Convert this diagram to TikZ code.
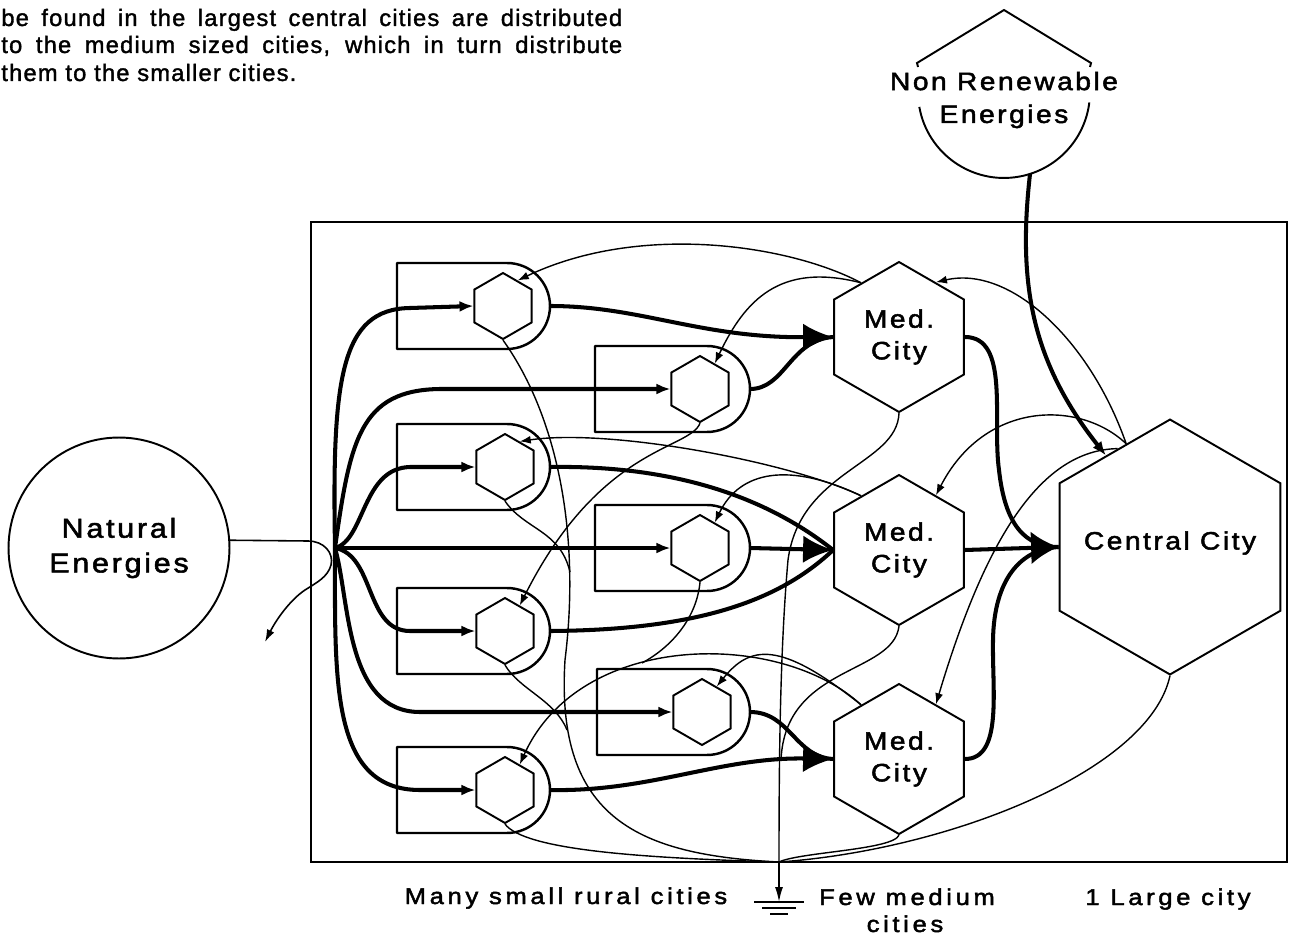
\documentclass[tikz,border=0pt]{standalone}
\usepackage{fontspec}
\setmainfont{Liberation Sans}
\newfontfamily\lblfont[FakeStretch=1.12,LetterSpace=10,FakeBold=2]{Liberation Sans}
\newfontfamily\botfont[FakeStretch=1.12,LetterSpace=16,FakeBold=2]{Liberation Sans}
\newfontfamily\hdrfont[LetterSpace=5,FakeBold=1.5]{Liberation Sans}
\usetikzlibrary{arrows.meta,shapes.geometric}

\begin{document}
\begin{tikzpicture}[x=0.02cm, y=-0.02cm,
  unit/.style={draw, line width=1.1pt, regular polygon, regular polygon sides=6, shape border rotate=30, minimum size=1.32cm, inner sep=0pt},
  city/.style={unit, minimum size=3cm, align=center, font=\lblfont\fontsize{14.3}{18}\selectfont},
  encl/.style={line width=1.4pt, line join=round},
  pipe/.style={line width=2.3pt},
  flow/.style={pipe, -{Latex[length=0.28cm,width=0.22cm]}},
  bigflow/.style={pipe, -{Latex[length=0.6cm,width=0.55cm]}},
  cflow/.style={pipe, -{Latex[length=0.55cm,width=0.66cm]}},
  fb/.style={line width=0.8pt, -{Latex[length=0.22cm,width=0.16cm]}},
  drain/.style={line width=0.8pt},
  hdr/.style={font=\hdrfont\fontsize{13.5}{16}\selectfont, inner sep=0pt},
  lbl/.style={font=\botfont\fontsize{13}{16}\selectfont, anchor=base, inner sep=0pt}
]
\useasboundingbox (0,0) rectangle (1291,936);

% caption text above
\node[hdr, anchor=base west] (hdra) at (1,26) {\hbox to 12.42cm{be found in the largest central cities are distributed}};
\node[hdr, anchor=base west] (hdrb) at (1,53) {\hbox to 12.42cm{to the medium sized cities, which in turn distribute}};
\node[hdr, anchor=base west] (hdrc) at (1,81) {them to the smaller cities.};

% sources
\node[draw, circle, line width=1.1pt, minimum size=4.42cm, align=center, font=\lblfont\fontsize{15.5}{19.8}\selectfont] (nat) at (119,548) {Natural\\Energies};
\draw[line width=1.1pt] (918,67) -- (917,63) -- (1004,10) -- (1091,63) -- (1090,67);
\draw[line width=1.1pt] (919.3,106.9) arc[start angle=190, end angle=353, radius=1.72cm];
\node[align=center, font=\lblfont\fontsize{14.3}{18.7}\selectfont] (nre) at (1004,100) {Non Renewable\\Energies};
\coordinate (nreb) at (1030,174);

% region
\draw[line width=1.1pt] (311,222) rectangle (1287,862);

% cities
\node[city] (m1) at (899,337) {Med.\\City};
\node[city] (m2) at (899,550) {Med.\\City};
\node[city] (m3) at (899,759) {Med.\\City};
\node[unit, minimum size=5.1cm] (cc) at (1170,547) {};
\node[font=\lblfont\fontsize{14.3}{18}\selectfont] (cct) at (1170,543) {Central City};

% small rural cities
\node[unit] (u1) at (503,306) {};
\node[unit] (u2) at (700,389) {};
\node[unit] (u3) at (505,467) {};
\node[unit] (u4) at (700,548) {};
\node[unit] (u5) at (505,631) {};
\node[unit] (u6) at (702,712) {};
\node[unit] (u7) at (505,790) {};
\draw[encl] (397,349) -- (397,263) -- (507,263) arc[start angle=90, end angle=-90, radius=0.86cm] -- cycle;
\draw[encl] (595,432) -- (595,346) -- (707,346) arc[start angle=90, end angle=-90, radius=0.86cm] -- cycle;
\draw[encl] (397,510) -- (397,424) -- (507,424) arc[start angle=90, end angle=-90, radius=0.86cm] -- cycle;
\draw[encl] (595,591) -- (595,505) -- (707,505) arc[start angle=90, end angle=-90, radius=0.86cm] -- cycle;
\draw[encl] (397,674) -- (397,588) -- (507,588) arc[start angle=90, end angle=-90, radius=0.86cm] -- cycle;
\draw[encl] (597,755) -- (597,669) -- (707,669) arc[start angle=90, end angle=-90, radius=0.86cm] -- cycle;
\draw[encl] (397,833) -- (397,747) -- (507,747) arc[start angle=90, end angle=-90, radius=0.86cm] -- cycle;
\coordinate (o1) at (550,306);
\coordinate (o2) at (750,389);
\coordinate (o3) at (550,467);
\coordinate (o4) at (750,548);
\coordinate (o5) at (550,631);
\coordinate (o6) at (750,712);
\coordinate (o7) at (550,790);

% natural energy in, unused part out
\coordinate (J) at (335,548);
\coordinate (spill) at (265,642);
\draw[line width=0.9pt, -{Latex[length=0.25cm,width=0.16cm]}] (nat.4) -- (308,541) .. controls (324,541) and (334,553) .. (331,565) .. controls (328,577) and (316,583) .. (305,590) .. controls (290,600) and (276,620) .. (spill);
\draw[flow] (J) .. controls (332,380) and (340,309) .. (410,308) -- (u1.west);
\draw[flow] (J) .. controls (350,440) and (360,390) .. (440,389) -- (u2.west);
\draw[flow] (J) .. controls (365,540) and (362,468) .. (410,467) -- (u3.west);
\draw[flow] (J) -- (u4.west);
\draw[flow] (J) .. controls (375,555) and (365,631) .. (410,631) -- (u5.west);
\draw[flow] (J) .. controls (350,600) and (345,712) .. (420,712) -- (u6.west);
\draw[flow] (J) .. controls (335,680) and (330,790) .. (420,790) -- (u7.west);

% small to medium
\draw[bigflow] (o1) .. controls (640,306) and (700,338) .. (m1.west);
\draw[pipe] (o2) .. controls (785,389) and (790,340) .. (m1.west);
\draw[pipe] (o3) .. controls (680,465) and (770,500) .. (m2.west);
\draw[bigflow] (o4) -- (m2.west);
\draw[pipe] (o5) .. controls (700,630) and (780,600) .. (m2.west);
\draw[pipe] (o6) .. controls (790,712) and (795,757) .. (m3.west);
\draw[bigflow] (o7) .. controls (650,792) and (720,757) .. (m3.west);

% medium to central
\draw[pipe] (m1.east) .. controls (1010,337) and (992,420) .. (999,470) .. controls (1005,525) and (1025,547) .. (cc.west);
\draw[cflow] (m2.east) -- (cc.west);
\draw[pipe] (m3.east) .. controls (1003,759) and (992,690) .. (993,640) .. controls (994,580) and (1020,549) .. (cc.west);
\draw[flow] (nreb) .. controls (1018,280) and (1030,360) .. (cc.125);

% feedbacks
\draw[fb] (m1.125) .. controls (790,245) and (640,222) .. (u1.60);
\draw[fb] (m1.125) .. controls (780,262) and (745,300) .. (u2.60);
\draw[fb] (m2.125) .. controls (790,462) and (610,428) .. (u3.60);
\draw[fb] (m2.125) .. controls (790,462) and (740,470) .. (u4.60);
\draw[fb] (u2.south) .. controls (690,450) and (600,445) .. (u5.60);
\draw[fb] (m3.125) .. controls (780,640) and (750,645) .. (u6.60);
\draw[fb] (m3.125) .. controls (780,630) and (580,630) .. (u7.60);
\draw[fb] (cc.113) .. controls (1090,340) and (1010,265) .. (m1.56);
\draw[fb] (cc.113) .. controls (1080,400) and (985,400) .. (m2.56);
\draw[fb] (cc.118) .. controls (1040,450) and (985,540) .. (m3.56);

% heat sink
\coordinate (sink) at (779,862);
\coordinate (gnd) at (779,902);
\coordinate (u4j) at (642,663);
\draw[drain] (u1.south) .. controls (560,420) and (580,540) .. (565,660) .. controls (555,820) and (640,855) .. (sink);
\draw[drain] (u3.south) .. controls (525,530) and (560,530) .. (570,572);
\draw[drain] (u4.south) .. controls (697,615) and (675,645) .. (u4j);
\draw[drain] (u5.south) .. controls (520,690) and (555,700) .. (567,730);
\draw[drain] (u7.south) .. controls (525,850) and (640,858) .. (sink);
\draw[drain] (m1.south) .. controls (897,465) and (800,470) .. (788,560) .. controls (780,650) and (779,760) .. (sink);
\draw[drain] (m2.south) .. controls (893,675) and (785,665) .. (781,760);
\draw[drain] (m3.south) .. controls (893,850) and (800,852) .. (sink);
\draw[drain] (cc.south) .. controls (1150,770) and (950,850) .. (sink);
\draw[line width=0.9pt, -{Latex[length=0.3cm,width=0.16cm]}] (sink) -- (gnd);
\draw[line width=1.1pt] (754,902) -- (804,902) (762,908) -- (796,908) (770,914) -- (788,914);

% labels
\node[lbl] (many) at (566,904) {Many small rural cities};
\node[lbl] (few) at (907,905) {Few medium};
\node[lbl] (fewb) at (905,932) {cities};
\node[lbl] (large) at (1168,905) {1 Large city};
\end{tikzpicture}
\end{document}
